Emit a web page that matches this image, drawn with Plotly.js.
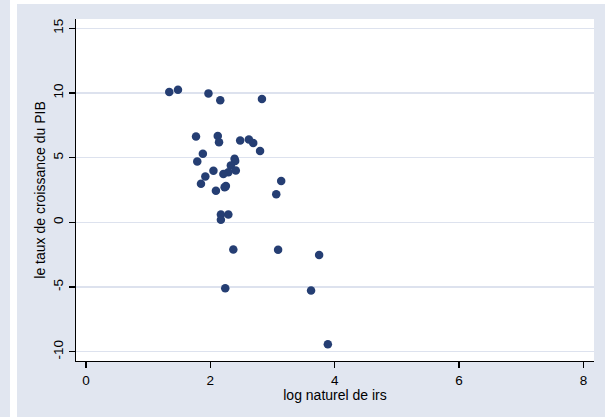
<!DOCTYPE html>
<html>
<head>
<meta charset="utf-8">
<script src="https://cdn.plot.ly/plotly-3.0.1.min.js"></script>
<style>
  html, body { margin: 0; padding: 0; background: #ffffff; width: 605px; height: 417px; overflow: hidden; }
  #strip { position: absolute; left: 0; top: 0; width: 10px; height: 417px; background: #e1e6f0; }
  #chart { position: absolute; left: 17px; top: 4px; width: 588px; height: 413px; }
</style>
</head>
<body>
<div id="strip"></div>
<div id="chart"></div>
<script>
// log naturel de irs
const lnIrs = [1.34, 1.48, 1.97, 2.16, 2.83, 1.77, 2.12, 2.14, 2.48, 2.62, 2.69, 2.80,
               1.88, 1.79, 2.39, 2.40, 2.33, 2.41, 2.29, 2.21, 2.05, 1.92, 1.85, 2.25,
               2.23, 2.09, 3.14, 3.06, 2.17, 2.29, 2.17, 2.37, 3.09, 3.75, 2.24, 3.62, 3.89];
// le taux de croissance du PIB
const growth = [10.07, 10.25, 9.97, 9.43, 9.53, 6.64, 6.67, 6.20, 6.33, 6.41, 6.13, 5.51,
                5.30, 4.71, 4.92, 4.75, 4.40, 4.01, 3.88, 3.73, 3.99, 3.55, 2.98, 2.80,
                2.72, 2.44, 3.19, 2.18, 0.61, 0.61, 0.20, -2.10, -2.12, -2.53, -5.09, -5.27, -9.42];

const xTicks = [0, 2, 4, 6, 8];
const yTicks = [-10, -5, 0, 5, 10, 15];

const panel = '#e1e6f0';
const font = 'Liberation Sans, Arial, sans-serif';

Plotly.newPlot('chart', [{
  type: 'scatter',
  mode: 'markers',
  x: lnIrs,
  y: growth,
  marker: { color: '#253e73', size: 8.5, line: { width: 0 } },
  hoverinfo: 'x+y'
}], {
  width: 588,
  height: 413,
  paper_bgcolor: panel,
  plot_bgcolor: '#ffffff',
  margin: { l: 59, r: 11, t: 15, b: 56 },
  showlegend: false,
  font: { family: font, size: 13.5, color: '#000000' },
  xaxis: {
    range: [-0.16, 8.17],
    tickvals: xTicks,
    ticktext: xTicks.map(String),
    showgrid: false,
    zeroline: false,
    showline: true,
    linecolor: '#000000',
    linewidth: 1.3,
    ticks: 'outside',
    ticklen: 6,
    tickwidth: 1.2,
    tickcolor: '#000000',
    tickfont: { family: font, size: 13.5, color: '#000000' },
    title: { text: 'log naturel de irs', font: { family: font, size: 14, color: '#000000' }, standoff: 1 }
  },
  yaxis: {
    range: [-10.72, 15.72],
    tickvals: yTicks,
    ticktext: yTicks.map(String),
    tickangle: -90,
    showgrid: true,
    gridcolor: '#dde2ee',
    gridwidth: 1.2,
    zeroline: false,
    showline: true,
    linecolor: '#000000',
    linewidth: 1.3,
    ticks: 'outside',
    ticklen: 6,
    tickwidth: 1.2,
    tickcolor: '#000000',
    tickfont: { family: font, size: 13.5, color: '#000000' },
    title: { text: 'le taux de croissance du PIB', font: { family: font, size: 14, color: '#000000' }, standoff: 2 }
  }
}, { displayModeBar: false, staticPlot: true });
</script>
</body>
</html>
